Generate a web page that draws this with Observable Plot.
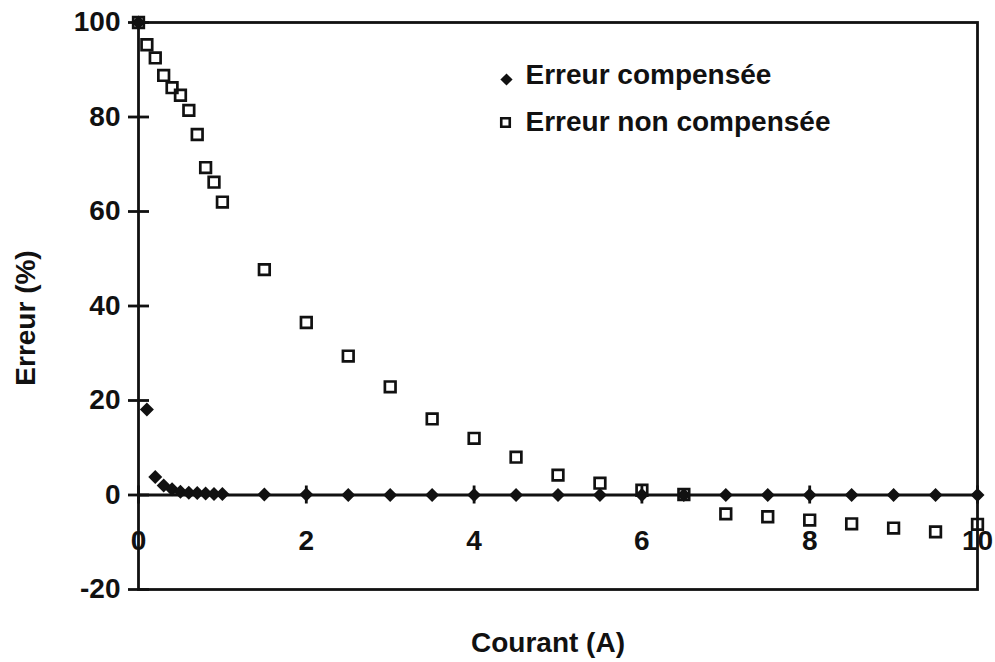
<!DOCTYPE html>
<html><head><meta charset="utf-8">
<script src="https://cdn.jsdelivr.net/npm/d3@7"></script>
<script src="https://cdn.jsdelivr.net/npm/@observablehq/plot@0.6"></script>
<style>body{margin:0;background:#fff;} svg{display:block;}</style>
</head><body><div id="chart"></div>
<script>
const courant = [0, 0.1, 0.2, 0.3, 0.4, 0.5, 0.6, 0.7, 0.8, 0.9, 1.0, 1.5, 2, 2.5, 3, 3.5, 4, 4.5, 5, 5.5, 6, 6.5, 7, 7.5, 8, 8.5, 9, 9.5, 10];
const erreurCompensee = [100, 18.1, 3.8, 2.0, 1.2, 0.7, 0.5, 0.4, 0.3, 0.2, 0.2, 0.1, 0.1, 0, 0, 0, 0, 0, 0, 0, 0, 0, 0, 0, 0, 0, 0, 0, 0];
const erreurNonCompensee = [100, 95.3, 92.5, 88.8, 86.2, 84.6, 81.4, 76.3, 69.3, 66.2, 62.0, 47.7, 36.5, 29.4, 22.9, 16.1, 12.0, 8.0, 4.2, 2.5, 1.0, 0.1, -4.0, -4.6, -5.3, -6.1, -7.0, -7.8, -6.2];
const xTicks = [0, 2, 4, 6, 8, 10];
const yTicks = [-20, 0, 20, 40, 60, 80, 100];
const legendLabels = ["Erreur compensée", "Erreur non compensée"];
const xLabel = "Courant (A)";
const yLabel = "Erreur (%)";

const compData = courant.map((c, i) => ({courant: c, erreur: erreurCompensee[i]}));
const nonCompData = courant.map((c, i) => ({courant: c, erreur: erreurNonCompensee[i]}));

const ink = "#111";
const font = "'Liberation Sans', Arial, sans-serif";
const fs = 28;

const chart = Plot.plot({
  width: 995, height: 662,
  marginTop: 22, marginRight: 18, marginBottom: 73, marginLeft: 138,
  x: {domain: [0, 10], axis: null},
  y: {domain: [-20, 100], axis: null},
  style: {fontFamily: font, fontWeight: "bold", background: "#fff", color: ink},
  marks: [
    Plot.frame({stroke: ink, strokeWidth: 2.8}),
    Plot.ruleY([0], {stroke: ink, strokeWidth: 3}),
    Plot.ruleY(yTicks, {y: d => d, x1: 0, x2: 0, insetLeft: -10, insetRight: -11, stroke: ink, strokeWidth: 2.8}),
    Plot.ruleX(xTicks, {x: d => d, y1: 0, y2: 0, insetTop: -9, insetBottom: -9, stroke: ink, strokeWidth: 2.8}),
    Plot.text(yTicks, {x: 0, y: d => d, text: d => String(d), textAnchor: "end", lineAnchor: "middle", dx: -18, fontSize: fs, fontWeight: "bold", fill: ink}),
    Plot.text(xTicks, {x: d => d, y: 0, text: d => String(d), textAnchor: "middle", lineAnchor: "middle", dy: 46, fontSize: fs, fontWeight: "bold", fill: ink}),
    Plot.dot(compData, {x: "courant", y: "erreur", symbol: "diamond2", r: 6.3, fill: ink, stroke: "none"}),
    Plot.dot(nonCompData, {x: "courant", y: "erreur", symbol: "square", r: 6, fill: "none", stroke: ink, strokeWidth: 2.7}),
    Plot.dot([legendLabels[0]], {frameAnchor: "top-left", dx: 368, dy: 57, symbol: "diamond2", r: 5.5, fill: ink, stroke: "none"}),
    Plot.dot([legendLabels[1]], {frameAnchor: "top-left", dx: 367, dy: 100, symbol: "square", r: 4.8, fill: "none", stroke: ink, strokeWidth: 2.6}),
    Plot.text([legendLabels[0]], {frameAnchor: "top-left", dx: 387, dy: 53, text: d => d, textAnchor: "start", lineAnchor: "middle", fontSize: fs, fontWeight: "bold", fill: ink}),
    Plot.text([legendLabels[1]], {frameAnchor: "top-left", dx: 387, dy: 100, text: d => d, textAnchor: "start", lineAnchor: "middle", fontSize: fs, fontWeight: "bold", fill: ink}),
    Plot.text([yLabel], {frameAnchor: "left", dx: -112, dy: 12, rotate: -90, text: d => d, textAnchor: "middle", lineAnchor: "middle", fontSize: fs, fontWeight: "bold", fill: ink}),
    Plot.text([xLabel], {frameAnchor: "bottom", dx: -10, dy: 54, text: d => d, textAnchor: "middle", lineAnchor: "middle", fontSize: fs, fontWeight: "bold", fill: ink})
  ]
});
document.getElementById("chart").appendChild(chart);
</script>
</body></html>
